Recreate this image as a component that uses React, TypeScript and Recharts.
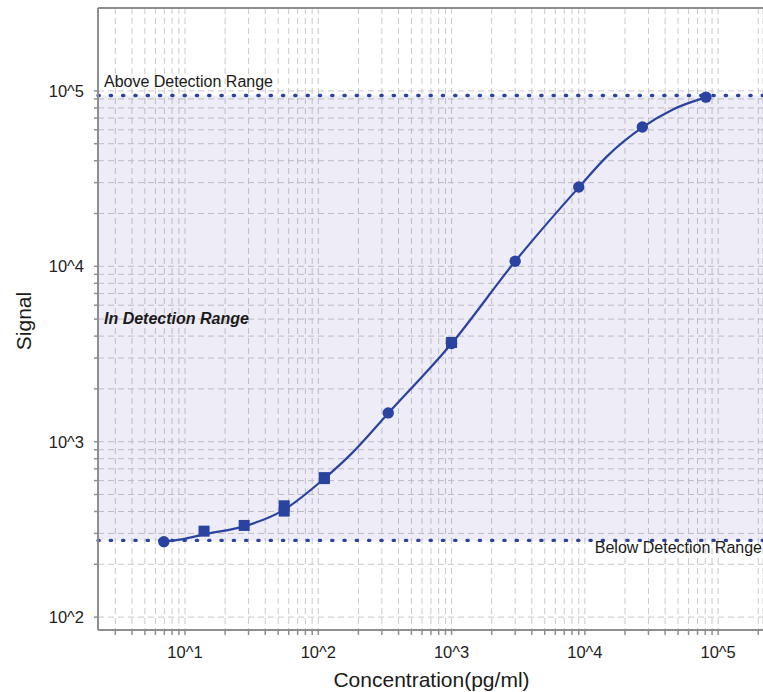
import React from 'react';
import {
  ComposedChart,
  Line,
  Scatter,
  XAxis,
  YAxis,
  CartesianGrid,
  ReferenceLine,
  ReferenceArea,
  Label,
} from 'recharts';

// ---- data ----
const circleConc = [6.94, 335, 1000, 3000, 9000, 27000, 81000];
const circleSignal = [269, 1459, 3627, 10680, 28300, 62250, 92200];

const squareConc = [13.9, 27.8, 55.5, 55.5, 111, 111, 1000];
const squareSignal = [309, 333, 431, 402, 624, 616, 3680];

const curveConc = [6.94, 9.66, 14.13, 28.2, 54.4, 112, 172.9, 335, 1000, 3000, 9000, 14660, 27000, 45800, 81000];
const curveSignal = [269, 278, 297, 330, 406, 620, 838, 1453, 3627, 10680, 28180, 42350, 61940, 78450, 91840];

const upperLimit = 94250;
const lowerLimit = 273.6;

const xDomain: [number, number] = [2.225, 217000];
const yDomain: [number, number] = [84.4, 297000];

const xDecades = [1, 10, 100, 1000, 10000, 100000];
const yDecades = [100, 1000, 10000, 100000];
const minorSteps = [1, 2, 3, 4, 5, 6, 7, 8, 9];

const titleX = 'Concentration(pg/ml)';
const titleY = 'Signal';
const aboveText = 'Above Detection Range';
const belowText = 'Below Detection Range';
const inText = 'In Detection Range';

// ---- derived tables ----
const circles = circleConc.map((x, i) => ({ x, y: circleSignal[i] }));
const squares = squareConc.map((x, i) => ({ x, y: squareSignal[i] }));
const curve = curveConc.map((x, i) => ({ x, y: curveSignal[i] }));

const xTicks = xDecades
  .flatMap((d) => minorSteps.map((m) => d * m))
  .filter((v) => v >= xDomain[0] && v <= xDomain[1]);
const yTicks = yDecades
  .flatMap((d) => (d === 100000 ? [d] : minorSteps.map((m) => d * m)));

const powLabel = (v: number) => {
  const e = Math.log10(v);
  const r = Math.round(e);
  return Math.abs(e - r) < 1e-9 ? `10^${r}` : '';
};

const BLUE = '#2a43a0';
const AXIS = '#8e8e8e';
const FONT = '"Liberation Sans", Arial, sans-serif';

const CircleShape = (props: any) => (
  <circle cx={props.cx} cy={props.cy} r={5.7} fill={BLUE} />
);
const SquareShape = (props: any) => (
  <rect x={props.cx - 5.5} y={props.cy - 5.5} width={11} height={11} fill={BLUE} />
);

export default function App() {
  return (
    <div style={{ position: 'absolute', left: 0, top: 0, background: '#fff' }}>
      <ComposedChart
        width={763}
        height={692}
        margin={{ top: 8, right: 0, bottom: 0, left: 0 }}
        style={{ fontFamily: FONT }}
      >
        <CartesianGrid stroke="#c9c9c9" strokeDasharray="6 4" strokeWidth={1} />
        <ReferenceArea
          y1={lowerLimit}
          y2={upperLimit}
          fill="#5a55b4"
          fillOpacity={0.11}
          stroke="none"
          ifOverflow="visible"
        >
          <Label
            value={inText}
            position="insideLeft"
            offset={6}
            fontSize={16}
            fontWeight="bold"
            fontStyle="italic"
            fill="#1a1a1a"
            fontFamily={FONT}
          />
        </ReferenceArea>
        <XAxis
          type="number"
          dataKey="x"
          scale="log"
          domain={xDomain}
          allowDataOverflow
          ticks={xTicks}
          interval={0}
          tickFormatter={powLabel}
          height={62}
          tickSize={5}
          tickMargin={11}
          tick={{ fontSize: 16.5, fill: '#222', fontFamily: FONT }}
          axisLine={{ stroke: AXIS, strokeWidth: 2 }}
          tickLine={{ stroke: AXIS, strokeWidth: 1.5 }}
        >
          <Label
            content={(p: any) => {
              const vb = p.viewBox || { x: 98, y: 630, width: 665, height: 62 };
              return (
                <text
                  x={vb.x + vb.width / 2 + 1}
                  y={vb.y + vb.height - 5}
                  textAnchor="middle"
                  fontSize={21}
                  fill="#1a1a1a"
                  fontFamily={FONT}
                >
                  {titleX}
                </text>
              );
            }}
          />
        </XAxis>
        <YAxis
          type="number"
          dataKey="y"
          scale="log"
          domain={yDomain}
          allowDataOverflow
          ticks={yTicks}
          interval={0}
          tickFormatter={powLabel}
          width={98}
          tickSize={4}
          tickMargin={10}
          tick={{ fontSize: 16.5, fill: '#222', fontFamily: FONT }}
          axisLine={{ stroke: AXIS, strokeWidth: 2 }}
          tickLine={{ stroke: AXIS, strokeWidth: 1.5 }}
        >
          <Label
            content={(p: any) => {
              const vb = p.viewBox || { x: 0, y: 8, width: 98, height: 622 };
              const cx = vb.x + 31;
              const cy = vb.y + vb.height / 2 + 2;
              return (
                <text
                  x={cx}
                  y={cy}
                  transform={`rotate(-90 ${cx} ${cy})`}
                  textAnchor="middle"
                  fontSize={21}
                  fill="#1a1a1a"
                  fontFamily={FONT}
                >
                  {titleY}
                </text>
              );
            }}
          />
        </YAxis>
        <ReferenceLine y={yDomain[1]} stroke={AXIS} strokeWidth={2} ifOverflow="visible" />
        <ReferenceLine
          y={upperLimit}
          stroke={BLUE}
          strokeWidth={3.4}
          strokeDasharray="1.2 11.1"
          strokeLinecap="round"
        >
          <Label
            value={aboveText}
            position="insideBottomLeft"
            offset={6}
            dy={-2}
            fontSize={16}
            fill="#1a1a1a"
            fontFamily={FONT}
          />
        </ReferenceLine>
        <ReferenceLine
          y={lowerLimit}
          stroke={BLUE}
          strokeWidth={3.4}
          strokeDasharray="1.2 11.1"
          strokeLinecap="round"
        >
          <Label
            value={belowText}
            position="insideTopRight"
            offset={1}
            fontSize={16}
            fill="#1a1a1a"
            fontFamily={FONT}
          />
        </ReferenceLine>
        <Line
          data={curve}
          dataKey="y"
          type="monotone"
          stroke={BLUE}
          strokeWidth={2.2}
          dot={false}
          activeDot={false}
          isAnimationActive={false}
        />
        <Scatter data={squares} dataKey="y" shape={SquareShape} isAnimationActive={false} />
        <Scatter data={circles} dataKey="y" shape={CircleShape} isAnimationActive={false} />
      </ComposedChart>
    </div>
  );
}
